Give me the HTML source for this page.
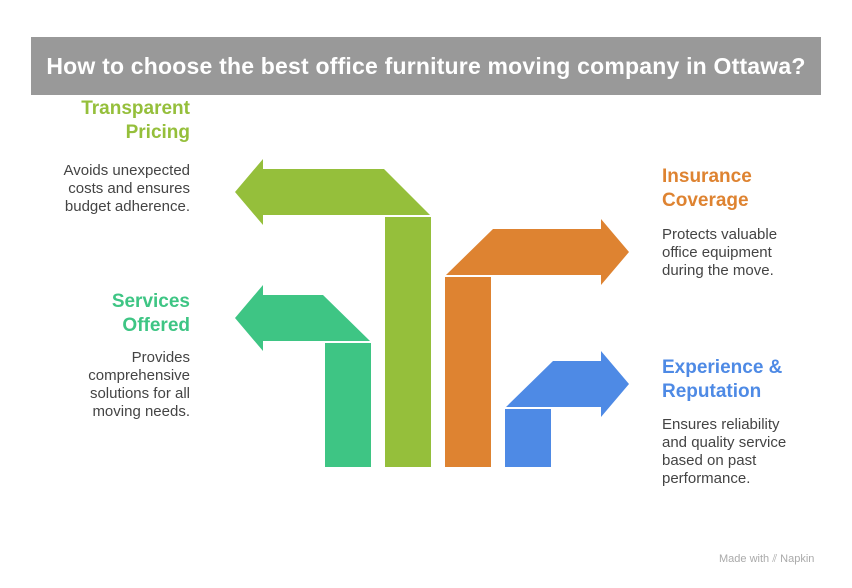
<!DOCTYPE html>
<html><head><meta charset="utf-8"><style>
body{margin:0;width:852px;height:588px;background:#fff;position:relative;font-family:"Liberation Sans",sans-serif;overflow:hidden}
.bar{position:absolute;left:31px;top:37px;width:790px;height:58px;background:#999;color:#fff;font-weight:bold;font-size:23px;letter-spacing:0.2px;line-height:58px;text-align:center;white-space:nowrap}
.h{position:absolute;font-weight:bold;font-size:19px;line-height:24px;white-space:nowrap}
.b{position:absolute;font-size:15px;line-height:18px;color:#444;white-space:nowrap}
.l{right:662px;text-align:right}
.r{left:662px;text-align:left}
</style></head><body>
<div class="bar">How to choose the best office furniture moving company in Ottawa?</div>
<svg style="position:absolute;left:0;top:0" width="852" height="588">
<polygon fill="#95bf3b" points="235,192 263,159 263,169 384,169 430,215 263,215 263,225"/>
<rect fill="#95bf3b" x="385" y="217" width="46" height="250"/>
<polygon fill="#de8331" points="446,275 493,229 601,229 601,219 629,252 601,285 601,275"/>
<rect fill="#de8331" x="445" y="277" width="46" height="190"/>
<polygon fill="#3ec584" points="235,318 263,285 263,295 323,295 370,341 263,341 263,351"/>
<rect fill="#3ec584" x="325" y="343" width="46" height="124"/>
<polygon fill="#4e8ae5" points="506,407 553,361 601,361 601,351 629,384 601,417 601,407"/>
<rect fill="#4e8ae5" x="505" y="409" width="46" height="58"/>
</svg>
<div class="h l" style="top:97px;color:#95bf3b">Transparent<br>Pricing</div>
<div class="b l" style="top:162px">Avoids unexpected<br>costs and ensures<br>budget adherence.</div>
<div class="h l" style="top:290px;color:#3ec584">Services<br>Offered</div>
<div class="b l" style="top:349px">Provides<br>comprehensive<br>solutions for all<br>moving needs.</div>
<div class="h r" style="top:165px;color:#de8331">Insurance<br>Coverage</div>
<div class="b r" style="top:226px">Protects valuable<br>office equipment<br>during the move.</div>
<div class="h r" style="top:356px;color:#4e8ae5">Experience &amp;<br>Reputation</div>
<div class="b r" style="top:416px">Ensures reliability<br>and quality service<br>based on past<br>performance.</div>
<div style="position:absolute;left:719px;top:553px;font-size:11px;color:#aaa">Made with ⫽ Napkin</div>
</body></html>
